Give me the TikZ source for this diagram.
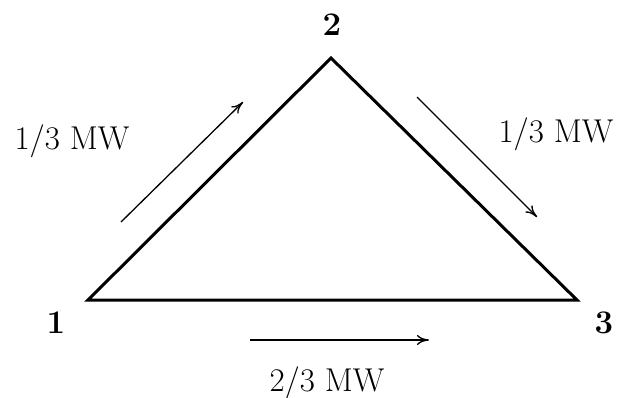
\documentclass[tikz,border=0pt]{standalone}
\usetikzlibrary{arrows.meta}
\begin{document}
\begin{tikzpicture}[x=0.5pt,y=-0.5pt,
  lbl/.style={inner sep=0pt,font=\fontsize{16.5}{19}\selectfont},
  vlbl/.style={inner sep=0pt,font=\fontsize{16.5}{19}\selectfont\bfseries},
  flow/.style={line width=0.65pt,-{To[length=6pt,width=5pt]}}]
\useasboundingbox (0,0) rectangle (620,397);
\coordinate (v1) at (88,300);
\coordinate (v2) at (331,58);
\coordinate (v3) at (577,300);
\draw[line width=1.5pt,line join=miter] (v1) -- (v2) -- (v3) -- cycle;
\node[vlbl] (n1) at (56,323) {1};
\node[vlbl] (n2) at (332,25) {2};
\node[vlbl] (n3) at (604,323) {3};
\coordinate (a1s) at (121,222); \coordinate (a1e) at (243,102);
\coordinate (a2s) at (417,97); \coordinate (a2e) at (537,217);
\coordinate (a3s) at (250,340); \coordinate (a3e) at (429,340);
\draw[flow] (a1s) -- (a1e);
\draw[flow] (a2s) -- (a2e);
\draw[flow] (a3s) -- (a3e);
\node[lbl] (l1) at (72,141) {1/3 MW};
\node[lbl] (l2) at (556,134) {1/3 MW};
\node[lbl] (l3) at (327,383) {2/3 MW};
\end{tikzpicture}
\end{document}
